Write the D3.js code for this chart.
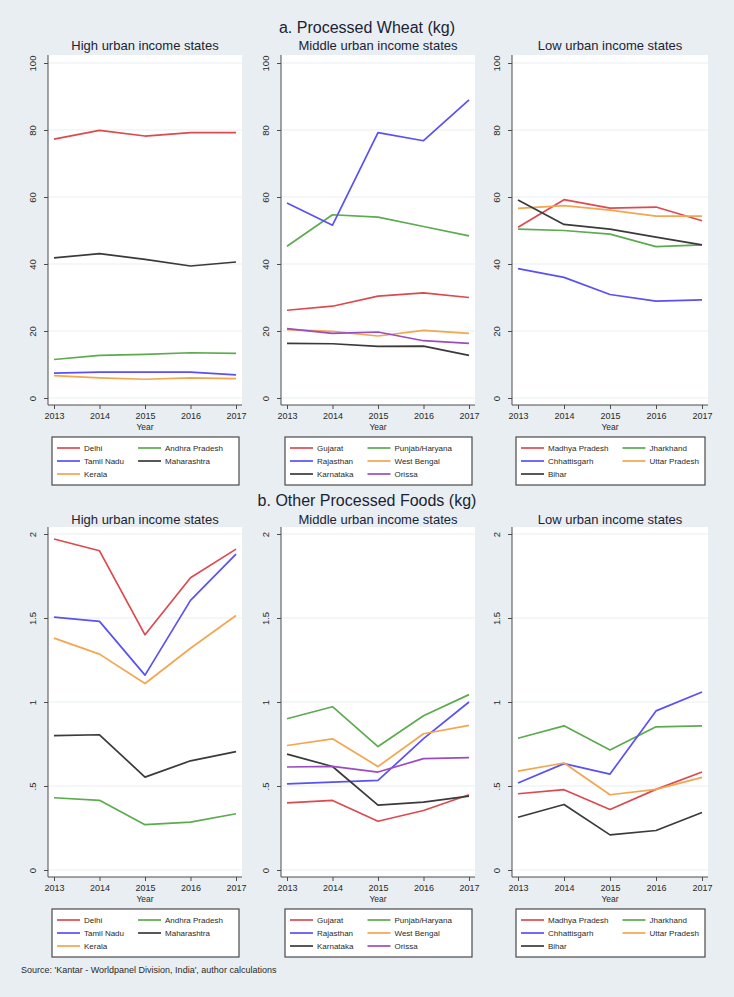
<!DOCTYPE html>
<html>
<head>
<meta charset="utf-8">
<script src="https://cdn.jsdelivr.net/npm/d3@7"></script>
<style>
html,body{margin:0;padding:0;background:#e8eef1;}
svg{display:block;}
</style>
</head>
<body>
<svg id="chart" width="734" height="997"></svg>
<script>
// ---------------- DATA ----------------
const years = [2013, 2014, 2015, 2016, 2017];
const sectionTitles = ["a. Processed Wheat (kg)", "b. Other Processed Foods (kg)"];
const groupTitles = ["High urban income states", "Middle urban income states", "Low urban income states"];

const highStates = ["Delhi", "Andhra Pradesh", "Tamil Nadu", "Maharashtra", "Kerala"];
const midStates  = ["Gujarat", "Punjab/Haryana", "Rajasthan", "West Bengal", "Karnataka", "Orissa"];
const lowStates  = ["Madhya Pradesh", "Jharkhand", "Chhattisgarh", "Uttar Pradesh", "Bihar"];

const wheatTicks = [0, 20, 40, 60, 80, 100];
const otherTicks = [0, 0.5, 1, 1.5, 2];

// Processed wheat (kg), one row per state (same order as state lists)
const wheatHigh = [
  [77.3, 79.9, 78.2, 79.2, 79.2],   // Delhi
  [11.5, 12.7, 13.0, 13.5, 13.3],   // Andhra Pradesh
  [7.4, 7.7, 7.7, 7.7, 6.9],        // Tamil Nadu
  [41.8, 43.1, 41.4, 39.4, 40.6],   // Maharashtra
  [6.7, 6.0, 5.6, 6.0, 5.8]         // Kerala
];
const wheatMid = [
  [26.2, 27.4, 30.4, 31.4, 30.0],   // Gujarat
  [45.3, 54.7, 54.0, 51.2, 48.4],   // Punjab/Haryana
  [58.2, 51.6, 79.2, 76.8, 89.0],   // Rajasthan
  [20.4, 19.9, 18.5, 20.2, 19.3],   // West Bengal
  [16.3, 16.2, 15.4, 15.5, 12.7],   // Karnataka
  [20.7, 19.3, 19.7, 17.1, 16.3]    // Orissa
];
const wheatLow = [
  [51.0, 59.2, 56.7, 57.0, 52.9],   // Madhya Pradesh
  [50.4, 50.0, 48.9, 45.2, 45.7],   // Jharkhand
  [38.6, 36.0, 30.9, 28.9, 29.3],   // Chhattisgarh
  [56.6, 57.4, 56.1, 54.3, 54.3],   // Uttar Pradesh
  [59.1, 51.8, 50.4, 48.0, 45.7]    // Bihar
];

// Other processed foods (kg)
const otherHigh = [
  [1.97, 1.90, 1.40, 1.74, 1.91],   // Delhi
  [0.43, 0.415, 0.27, 0.285, 0.335],// Andhra Pradesh
  [1.505, 1.48, 1.16, 1.605, 1.88], // Tamil Nadu
  [0.80, 0.805, 0.553, 0.65, 0.705],// Maharashtra
  [1.38, 1.285, 1.11, 1.32, 1.515]  // Kerala
];
const otherMid = [
  [0.40, 0.414, 0.29, 0.354, 0.448],// Gujarat
  [0.90, 0.972, 0.735, 0.918, 1.044],// Punjab/Haryana
  [0.513, 0.523, 0.533, 0.782, 1.0],// Rajasthan
  [0.741, 0.781, 0.616, 0.811, 0.861],// West Bengal
  [0.69, 0.616, 0.386, 0.404, 0.44],// Karnataka
  [0.613, 0.617, 0.583, 0.663, 0.669]// Orissa
];
const otherLow = [
  [0.454, 0.478, 0.36, 0.48, 0.583],// Madhya Pradesh
  [0.784, 0.858, 0.714, 0.852, 0.858],// Jharkhand
  [0.518, 0.633, 0.571, 0.947, 1.059],// Chhattisgarh
  [0.589, 0.637, 0.448, 0.48, 0.551],// Uttar Pradesh
  [0.314, 0.39, 0.209, 0.235, 0.342] // Bihar
];

const sourceNote = "Source: 'Kantar - Worldpanel Division, India', author calculations";

// ---------------- STYLES ----------------
const RED = "#dc4a4f", GREEN = "#5cab4f", BLUE = "#5a50f5", ORANGE = "#f3a64f", BLACK = "#3a3a3a", PURPLE = "#9a4cc0";
const stateColor = {
  "Delhi": RED, "Andhra Pradesh": GREEN, "Tamil Nadu": BLUE, "Maharashtra": BLACK, "Kerala": ORANGE,
  "Gujarat": RED, "Punjab/Haryana": GREEN, "Rajasthan": BLUE, "West Bengal": ORANGE, "Karnataka": BLACK, "Orissa": PURPLE,
  "Madhya Pradesh": RED, "Jharkhand": GREEN, "Chhattisgarh": BLUE, "Uttar Pradesh": ORANGE, "Bihar": BLACK
};
const FONT = "'Liberation Sans', Arial, Helvetica, sans-serif";
const TEXT = "#2a2a2a";
const TITLE = "#1b2335";
const AXIS = "#4d4d4d";
const GRID = "#e9eff2";

// ---------------- LAYOUT ----------------
const W = 734, H = 997;
const panelX = [[48, 242], [281, 475], [512, 708]];
const sections = [
  { title: sectionTitles[0], titleY: 33, subY: 50, plotTop: 55, axisY: 405, yBottom: 398, yTop: 63,
    domain: [0, 100], ticks: wheatTicks, data: [wheatHigh, wheatMid, wheatLow] },
  { title: sectionTitles[1], titleY: 506, subY: 524, plotTop: 527, axisY: 877, yBottom: 870, yTop: 534,
    domain: [0, 2], ticks: otherTicks, data: [otherHigh, otherMid, otherLow] }
];
const stateLists = [highStates, midStates, lowStates];

const fmtY = d => { const s = String(d); return s.startsWith("0.") ? s.slice(1) : s; };

const svg = d3.select("#chart");
svg.append("rect").attr("width", W).attr("height", H).attr("fill", "#e8eef1");

sections.forEach(sec => {
  svg.append("text")
    .attr("x", 367).attr("y", sec.titleY)
    .attr("text-anchor", "middle")
    .attr("font-family", FONT).attr("font-size", 16)
    .attr("fill", TITLE)
    .text(sec.title);

  sec.data.forEach((series, i) => {
    const [left, right] = panelX[i];
    const states = stateLists[i];
    const g = svg.append("g");
    const cx = (left + right) / 2;

    // subtitle
    g.append("text")
      .attr("x", cx).attr("y", sec.subY)
      .attr("text-anchor", "middle")
      .attr("font-family", FONT).attr("font-size", 13)
      .attr("fill", TITLE)
      .text(groupTitles[i]);

    // plot region
    g.append("rect")
      .attr("x", left).attr("y", sec.plotTop)
      .attr("width", right - left).attr("height", sec.axisY - sec.plotTop)
      .attr("fill", "#ffffff");

    const x = d3.scaleLinear().domain([years[0], years[years.length - 1]]).range([left + 6, right - 6]);
    const y = d3.scaleLinear().domain(sec.domain).range([sec.yBottom, sec.yTop]);

    // grid
    g.append("g").selectAll("line").data(sec.ticks).join("line")
      .attr("x1", left).attr("x2", right)
      .attr("y1", d => y(d)).attr("y2", d => y(d))
      .attr("stroke", GRID).attr("stroke-width", 1);

    // y axis
    const ya = g.append("g").attr("transform", `translate(${left},0)`)
      .call(d3.axisLeft(y).tickValues(sec.ticks).tickSize(4).tickFormat(fmtY));
    ya.select(".domain").remove();
    ya.selectAll(".tick line").attr("stroke", AXIS);
    ya.selectAll(".tick text")
      .attr("x", null).attr("dy", null)
      .attr("transform", "translate(-12,0) rotate(-90)")
      .attr("text-anchor", "middle")
      .attr("font-family", FONT).attr("font-size", 9.5)
      .attr("fill", TEXT);
    g.append("line")
      .attr("x1", left).attr("x2", left)
      .attr("y1", sec.plotTop).attr("y2", sec.axisY)
      .attr("stroke", AXIS).attr("stroke-width", 1);

    // x axis
    const xa = g.append("g").attr("transform", `translate(0,${sec.axisY})`)
      .call(d3.axisBottom(x).tickValues(years).tickSize(4).tickFormat(d3.format("d")));
    xa.select(".domain").remove();
    xa.selectAll(".tick line").attr("stroke", AXIS);
    xa.selectAll(".tick text")
      .attr("y", 8)
      .attr("font-family", FONT).attr("font-size", 9)
      .attr("fill", TEXT);
    g.append("line")
      .attr("x1", left).attr("x2", right)
      .attr("y1", sec.axisY).attr("y2", sec.axisY)
      .attr("stroke", AXIS).attr("stroke-width", 1);

    g.append("text")
      .attr("x", cx).attr("y", sec.axisY + 25)
      .attr("text-anchor", "middle")
      .attr("font-family", FONT).attr("font-size", 8.5)
      .attr("fill", TEXT)
      .text("Year");

    // lines
    const line = d3.line().x((d, j) => x(years[j])).y(d => y(d));
    g.append("g").selectAll("path").data(series).join("path")
      .attr("d", line)
      .attr("fill", "none")
      .attr("stroke", (d, k) => stateColor[states[k]])
      .attr("stroke-width", 1.7)
      .attr("stroke-linejoin", "round");

    // legend
    const bx = left + 4, bw = (right - 3) - bx;
    const by = sec.axisY + 32, bh = 48;
    const lg = g.append("g");
    lg.append("rect")
      .attr("x", bx).attr("y", by).attr("width", bw).attr("height", bh)
      .attr("fill", "#ffffff").attr("stroke", "#4a4a4a").attr("stroke-width", 1.2);

    // measure column-1 text width
    const tmp = lg.append("g").attr("visibility", "hidden");
    let maxW = 0;
    states.forEach((s, k) => {
      if (k % 2 === 0) {
        const t = tmp.append("text").attr("font-family", FONT).attr("font-size", 8).text(s);
        maxW = Math.max(maxW, t.node().getComputedTextLength());
      }
    });
    tmp.remove();
    const colOff = [5, 32 + maxW + 14];

    states.forEach((s, k) => {
      const col = k % 2, row = Math.floor(k / 2);
      const lx = bx + colOff[col];
      const ly = by + 11 + row * 13;
      lg.append("line")
        .attr("x1", lx).attr("x2", lx + 23)
        .attr("y1", ly).attr("y2", ly)
        .attr("stroke", stateColor[s]).attr("stroke-width", 1.7);
      lg.append("text")
        .attr("x", lx + 27).attr("y", ly + 3)
        .attr("font-family", FONT).attr("font-size", 8)
        .attr("fill", TEXT)
        .text(s);
    });
  });
});

svg.append("text")
  .attr("x", 21).attr("y", 973)
  .attr("font-family", FONT).attr("font-size", 9)
  .attr("fill", TEXT)
  .text(sourceNote);
</script>
</body>
</html>
